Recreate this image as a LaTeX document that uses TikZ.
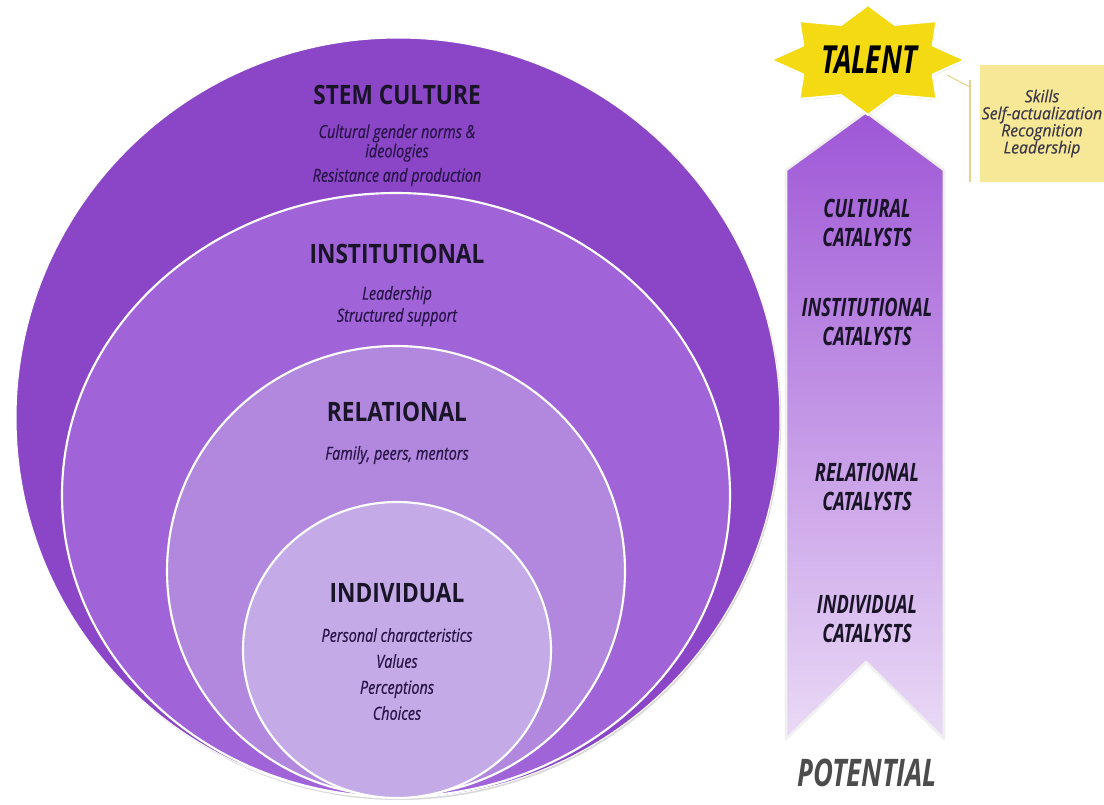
\documentclass[tikz,border=0pt]{standalone}
\usepackage{fontspec}
\setmainfont{Open Sans}[FakeStretch=0.8]
\newfontfamily\titelschrift{Open Sans}[FakeStretch=0.85]
\newfontfamily\engschrift{Open Sans}[FakeStretch=0.72]
\newfontfamily\unterschrift{Open Sans}[FakeStretch=0.8, FakeBold=0.5]
\newfontfamily\kastenschrift{Open Sans}[FakeStretch=0.95, FakeBold=0.4]
\usetikzlibrary{shadows}

\definecolor{kulturlila}{RGB}{139,70,200}
\definecolor{institutlila}{RGB}{160,100,216}
\definecolor{relationlila}{RGB}{177,136,221}
\definecolor{individuallila}{RGB}{196,171,231}
\definecolor{bandoben}{RGB}{158,86,214}
\definecolor{bandunten}{RGB}{234,218,246}
\definecolor{sterngelb}{RGB}{244,218,18}
\definecolor{kastengelb}{RGB}{246,232,150}
\definecolor{linienfarbe}{RGB}{226,212,140}
\definecolor{titeltext}{RGB}{26,20,40}
\definecolor{untertext}{RGB}{40,20,72}

\tikzset{
  ring/.style={draw=white, line width=1.6pt},
  titel/.style={inner sep=0pt, text=titeltext, font=\titelschrift\bfseries\fontsize{20}{22}\selectfont},
  unter/.style={inner sep=0pt, align=center, text=untertext, font=\unterschrift\itshape\fontsize{13.5}{#1}\selectfont},
  unter/.default=16.5,
  katalysator/.style={inner sep=0pt, align=center, text=titeltext, font=\engschrift\bfseries\itshape\fontsize{19}{21.5}\selectfont},
  stern/.style={fill=sterngelb, draw=white, line width=1.5pt, drop shadow={opacity=0.25, shadow xshift=0.5pt, shadow yshift=-1pt}},
  kasten/.style={fill=kastengelb, inner sep=0pt, align=center, text=titeltext!85,
    font=\kastenschrift\itshape\fontsize{12.5}{12.8}\selectfont},
  linie/.style={draw=linienfarbe, line width=0.8pt}
}

\begin{document}
\begin{tikzpicture}[x=0.75pt, y=-0.75pt, line join=round]

  % Rahmen
  \useasboundingbox (0,0) rectangle (1104,804);

  % Ringe von aussen nach innen
  \fill[kulturlila, drop shadow={opacity=0.3, shadow xshift=1pt, shadow yshift=-1.5pt}]
    (398,418) ellipse [x radius=382, y radius=380];
  \draw[white, line width=0.8pt] (398,418) ellipse [x radius=382, y radius=380];
  \filldraw[ring, fill=institutlila] (396,495) ellipse [x radius=334, y radius=302];
  \filldraw[ring, fill=relationlila] (396,571) ellipse [x radius=229, y radius=225];
  \filldraw[ring, fill=individuallila] (397,650) ellipse [x radius=154, y radius=148];

  % Beschriftung der Ringe
  \node[titel] (kultur) at (397,95) {STEM CULTURE};
  \node[unter=12.5] (kultur-a) at (397,143) {Cultural gender norms \&\\ideologies};
  \node[unter] (kultur-b) at (397,177) {Resistance and production};

  \node[titel] (institut) at (397,254) {INSTITUTIONAL};
  \node[unter] (institut-a) at (397,306) {Leadership\\Structured support};

  \node[titel] (relation) at (397,412) {RELATIONAL};
  \node[unter] (relation-a) at (397,455) {Family, peers, mentors};

  \node[titel] (individuum) at (397,593) {INDIVIDUAL};
  \node[unter=19.5] (individuum-a) at (397,674) {Personal characteristics\\Values\\Perceptions\\Choices};

  % Band: von Potential zu Talent
  \path[top color=bandoben, bottom color=bandunten, draw=white!88!gray, line width=2pt]
    (866,112) -- (944,170) -- (944,739) -- (866,662) -- (786,739) -- (786,170) -- cycle;

  \node[katalysator] (kat-kultur) at (867,223) {CULTURAL\\CATALYSTS};
  \node[katalysator] (kat-institut) at (867,322) {INSTITUTIONAL\\CATALYSTS};
  \node[katalysator] (kat-relation) at (867,487) {RELATIONAL\\CATALYSTS};
  \node[katalysator] (kat-individuum) at (867,619) {INDIVIDUAL\\CATALYSTS};

  \node[inner sep=0pt, text=black!70, font=\engschrift\bfseries\itshape\fontsize{28.5}{30}\selectfont]
    (potential) at (867,773) {POTENTIAL};

  % Stern mit Talent
  \begin{scope}[shift={(868,60)}]
    \path[stern] (0:97 and 55)
      \foreach \w in {0,45,...,315} { -- (\w:97 and 55) -- (\w+22.5:70 and 38) } -- cycle;
  \end{scope}
  \node[inner sep=0pt, text=black, font=\engschrift\bfseries\itshape\fontsize{29}{30}\selectfont]
    (talent) at (869,60) {TALENT};

  % Kasten mit Merkmalen
  \node[kasten, minimum width=93pt, minimum height=88pt] (merkmale) at (1042,123.5)
    {Skills\\Self-actualization\\Recognition\\Leadership};
  \coordinate (sternspitze) at (947,75);
  \coordinate (klammer-mitte) at (970,87);
  \coordinate (klammer-oben) at (970,80);
  \coordinate (klammer-unten) at (970,182);
  \draw[linie] (sternspitze) -- (klammer-mitte);
  \draw[linie] (klammer-oben) -- (klammer-unten);

\end{tikzpicture}
\end{document}
